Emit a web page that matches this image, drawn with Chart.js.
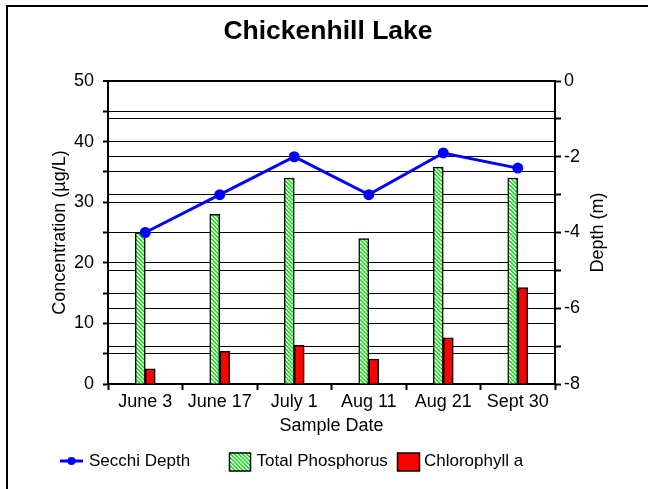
<!DOCTYPE html>
<html>
<head>
<meta charset="utf-8">
<script src="https://cdn.jsdelivr.net/npm/chart.js@4/dist/chart.umd.min.js"></script>
<style>
  html, body { margin: 0; padding: 0; background: #fff; }
  #wrap { width: 648px; height: 489px; }
</style>
</head>
<body>
<div id="wrap"><canvas id="c" width="648" height="489"></canvas></div>
<script>
// Chickenhill Lake sampling results
const chartTitle = 'Chickenhill Lake';
const sampleDates = ['June 3', 'June 17', 'July 1', 'Aug 11', 'Aug 21', 'Sept 30'];
const secchiDepth = [-4.0, -3.0, -2.0, -3.0, -1.9, -2.3];      // m
const totalPhosphorus = [25, 28, 34, 24, 35.8, 34];             // µg/L
const chlorophyllA = [2.5, 5.4, 6.4, 4.1, 7.6, 15.9];           // µg/L
const concentrationTicks = [0, 10, 20, 30, 40, 50];
const depthTicks = [0, -2, -4, -6, -8];
const seriesNames = ['Secchi Depth', 'Total Phosphorus', 'Chlorophyll a'];
const xTitle = 'Sample Date';
const yTitle = 'Concentration (µg/L)';
const y2Title = 'Depth (m)';

const FONT = '"Liberation Sans", Arial, sans-serif';
const canvas = document.getElementById('c');

// green/white diagonal hatch used for the phosphorus bars
function hatchPattern() {
  const n = 4;
  const tile = document.createElement('canvas');
  tile.width = n; tile.height = n;
  const t = tile.getContext('2d');
  const img = t.createImageData(n, n);
  for (let y = 0; y < n; y++) {
    for (let x = 0; x < n; x++) {
      const green = (((x - y) % n) + n) % n < 2;
      const i = (y * n + x) * 4;
      img.data[i] = green ? 0 : 255;
      img.data[i + 1] = 255;
      img.data[i + 2] = green ? 0 : 255;
      img.data[i + 3] = 255;
    }
  }
  t.putImageData(img, 0, 0);
  return canvas.getContext('2d').createPattern(tile, 'repeat');
}
const hatch = hatchPattern();

// titles, axis titles, legend and outer frame
const decorations = {
  id: 'decorations',
  afterDraw(chart) {
    const ctx = chart.ctx;
    const a = chart.chartArea;
    const midY = (a.top + a.bottom) / 2;
    ctx.save();
    ctx.fillStyle = '#000';
    ctx.fillRect(6, 5, 2, chart.height);
    ctx.fillRect(6, 5, chart.width, 2);

    ctx.font = 'bold 26.5px ' + FONT;
    ctx.textAlign = 'center';
    ctx.textBaseline = 'alphabetic';
    ctx.fillText(chartTitle, 328, 39);

    ctx.font = '18px ' + FONT;
    ctx.fillText(xTitle, (a.left + a.right) / 2, 431);

    ctx.textBaseline = 'middle';
    ctx.save();
    ctx.translate(60, midY);
    ctx.rotate(-Math.PI / 2);
    ctx.fillText(yTitle, 0, 0);
    ctx.restore();
    ctx.save();
    ctx.translate(598, midY);
    ctx.rotate(-Math.PI / 2);
    ctx.fillText(y2Title, 0, 0);
    ctx.restore();

    // legend
    const ds = chart.data.datasets;
    ctx.font = '17px ' + FONT;
    ctx.textAlign = 'left';
    ctx.textBaseline = 'alphabetic';
    ctx.strokeStyle = ds[0].borderColor;
    ctx.lineWidth = 3;
    ctx.beginPath();
    ctx.moveTo(60, 461); ctx.lineTo(83, 461);
    ctx.stroke();
    ctx.fillStyle = ds[0].borderColor;
    ctx.beginPath();
    ctx.arc(71.5, 461, 4, 0, Math.PI * 2);
    ctx.fill();
    ctx.fillStyle = '#000';
    ctx.fillText(ds[0].label, 89, 466);

    ctx.lineWidth = 1.5;
    ctx.strokeStyle = '#000';
    ctx.fillStyle = ds[1].backgroundColor;
    ctx.fillRect(229.5, 453, 21, 18);
    ctx.strokeRect(229.5, 453, 21, 18);
    ctx.fillStyle = '#000';
    ctx.fillText(ds[1].label, 256.5, 466);

    ctx.fillStyle = ds[2].backgroundColor;
    ctx.fillRect(397.5, 453, 22, 18);
    ctx.strokeRect(397.5, 453, 22, 18);
    ctx.fillStyle = '#000';
    ctx.fillText(ds[2].label, 424, 466);
    ctx.restore();
  }
};

Chart.defaults.font.family = FONT;
Chart.defaults.color = '#000';

new Chart(canvas, {
  type: 'bar',
  data: {
    labels: sampleDates,
    datasets: [
      {
        type: 'line',
        label: seriesNames[0],
        data: secchiDepth,
        yAxisID: 'y2',
        borderColor: '#0000FF',
        backgroundColor: '#0000FF',
        borderWidth: 3,
        pointRadius: 4,
        pointHoverRadius: 4,
        tension: 0,
        fill: false
      },
      {
        label: seriesNames[1],
        data: totalPhosphorus,
        yAxisID: 'y',
        backgroundColor: hatch,
        borderColor: '#000',
        borderWidth: 1.5,
        barThickness: 10
      },
      {
        label: seriesNames[2],
        data: chlorophyllA,
        yAxisID: 'y',
        backgroundColor: '#FF0000',
        borderColor: '#000',
        borderWidth: 1.5,
        barThickness: 10
      }
    ]
  },
  options: {
    responsive: false,
    animation: false,
    devicePixelRatio: 1,
    layout: { padding: { top: 81, left: 0, right: 0, bottom: 0 } },
    plugins: {
      legend: { display: false },
      title: { display: false },
      tooltip: { enabled: false }
    },
    scales: {
      x: {
        type: 'category',
        z: 1,
        afterFit(s) { s.height = 105; },
        grid: { offset: true, drawOnChartArea: false, tickLength: 6, tickColor: '#000', tickWidth: 2 },
        border: { color: '#000', width: 2 },
        ticks: { font: { size: 18 }, padding: 1, maxRotation: 0, autoSkip: false }
      },
      y: {
        position: 'left',
        min: 0,
        max: 50,
        afterFit(s) { s.width = 108; },
        grid: {
          color: '#000',
          lineWidth: c => (c.tick && c.tick.value === 50 ? 2 : 1),
          tickLength: 5,
          tickColor: '#000',
          tickWidth: 2
        },
        border: { color: '#000', width: 2 },
        ticks: {
          stepSize: 5,
          padding: 9,
          font: { size: 18 },
          callback: v => (concentrationTicks.includes(v) ? String(v) : '')
        }
      },
      y2: {
        position: 'right',
        min: -8,
        max: 0,
        afterFit(s) { s.width = 93; },
        grid: {
          color: '#000',
          lineWidth: 1,
          tickLength: 6,
          tickColor: '#000',
          tickWidth: 2
        },
        border: { color: '#000', width: 2 },
        ticks: {
          stepSize: 1,
          padding: 3,
          font: { size: 18 },
          callback: v => (depthTicks.includes(v) ? String(v) : '')
        }
      }
    }
  },
  plugins: [decorations]
});
</script>
</body>
</html>
